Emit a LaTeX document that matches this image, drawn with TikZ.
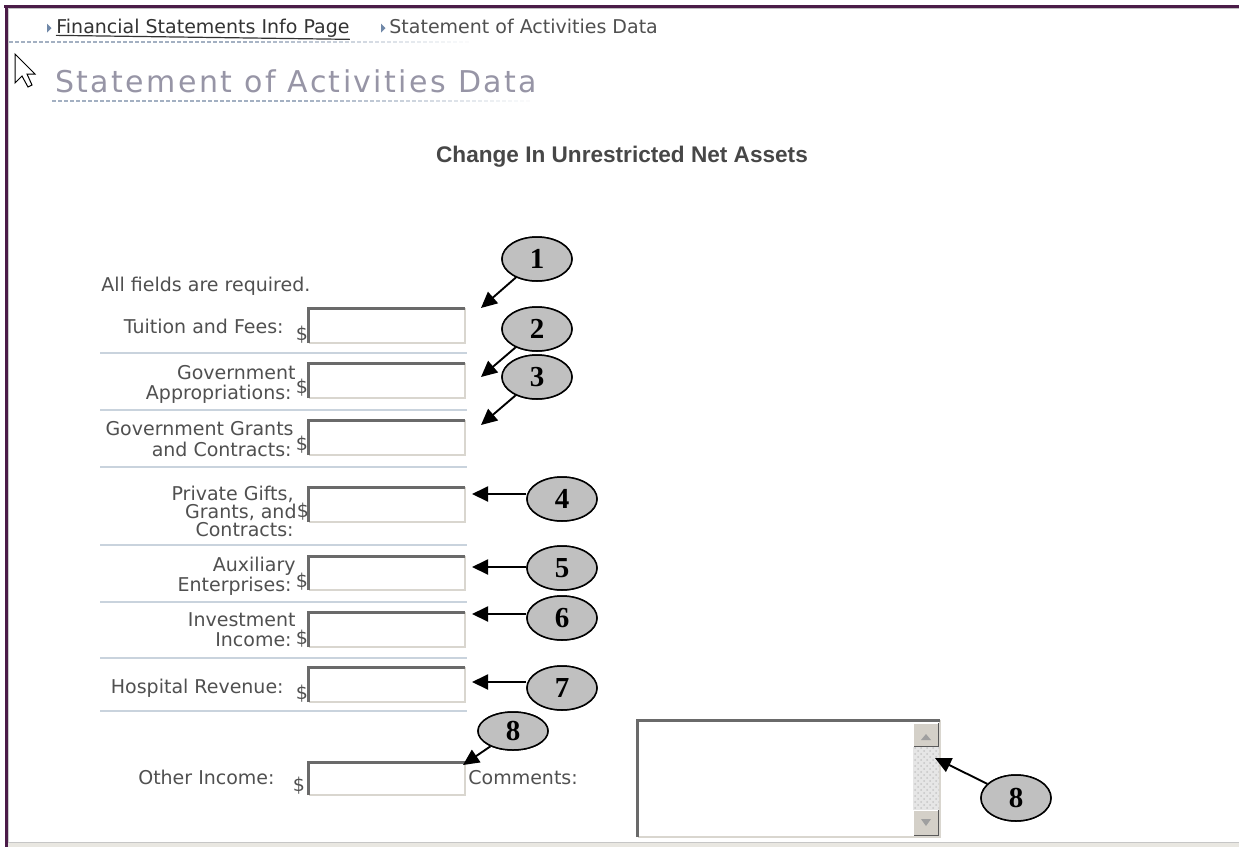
\documentclass[tikz,border=0pt]{standalone}
\usepackage{fontspec}
\setmainfont{DejaVu Sans}
\newfontfamily\numfont{Liberation Serif}
\newfontfamily\headfont{Liberation Sans}
\newfontfamily\titlefont[LetterSpace=8]{DejaVu Sans}
\usetikzlibrary{shapes.geometric,arrows.meta,patterns}
\definecolor{purp}{HTML}{4B1C48}
\definecolor{lab}{HTML}{505050}
\definecolor{sepc}{HTML}{C9D3DD}
\definecolor{dashc}{HTML}{A3B0C2}
\definecolor{ttl}{HTML}{9795A6}
\definecolor{bdark}{HTML}{6A6A6A}
\definecolor{blight}{HTML}{D9D6CF}
\definecolor{bubble}{HTML}{C0C0C0}
\definecolor{btn}{HTML}{D4D0C8}
\definecolor{trk}{HTML}{E6E6E6}
\definecolor{tri}{HTML}{7088A8}
\definecolor{band}{HTML}{E9E7E1}
\begin{document}
\begin{tikzpicture}[x=0.5pt,y=-0.5pt,
  lbl/.style={anchor=base east,inner sep=0,text=lab,font=\fontsize{9.5pt}{11pt}\selectfont},
  lbw/.style={anchor=base west,inner sep=0,text=lab,font=\fontsize{9.5pt}{11pt}\selectfont},
  dol/.style={anchor=base,inner sep=0,text=lab,font=\fontsize{9.5pt}{11pt}\selectfont},
  bub/.style={ellipse,draw=black,line width=0.75pt,fill=bubble,minimum width=35pt,minimum height=22pt,inner sep=0,font=\numfont\bfseries\fontsize{14.5pt}{16pt}\selectfont},
  arr/.style={line width=0.95pt,-{Triangle[length=8pt,width=7.5pt]}},
  sepline/.style={draw=sepc,line width=1pt},
]
\useasboundingbox (0,0) rectangle (1239,847);
\fill[white] (0,0) rectangle (1239,847);

% frame
\fill[purp] (4,5) rectangle (1239,7.5);
\draw[gray!50,line width=0.5pt] (8,8.5) -- (1239,8.5);
\fill[purp] (4.5,5) rectangle (7.5,847);
\draw[gray!40,line width=0.6pt] (8.5,8) -- (8.5,842);
\fill[band] (8,842) rectangle (1239,847);
\draw[gray!45,line width=0.5pt] (8,842) -- (1239,842);

% breadcrumb
\fill[tri] (47,23.5) -- (51.5,28) -- (47,32.5) -- cycle;
\node[anchor=base west,inner sep=0,text=black!80,font=\fontsize{9.5pt}{11pt}\selectfont] (bc1) at (56,33) {Financial Statements Info Page};
\draw[black!80,line width=0.6pt] (bc1.south west) ++(0,-2) -- ([yshift=-1pt]bc1.south east);
\fill[tri] (381,23.5) -- (385.5,28) -- (381,32.5) -- cycle;
\node[anchor=base west,inner sep=0,text=lab,font=\fontsize{9.5pt}{11pt}\selectfont] (bc2) at (389,33) {Statement of Activities Data};
\foreach \i in {0,...,76} {
  \pgfmathsetmacro\op{min(1,(78-\i)/40)}
  \draw[dashc,line width=0.6pt,opacity=\op] (9+6*\i,42) -- ++(3.5,0);
}

% cursor
\draw[black,fill=white,line width=0.5pt,line join=miter]
  (15,54) -- (15,83) -- (22,76) -- (28,87) -- (32,85) -- (27,74) -- (35,74) -- cycle;

% title
\node[anchor=base west,inner sep=0,text=ttl,font=\titlefont\fontsize{15pt}{18pt}\selectfont] (title) at (55,92) {Statement of Activities Data};
\foreach \i in {0,...,79} {
  \pgfmathsetmacro\op{min(1,(81-\i)/40)}
  \draw[dashc,line width=0.6pt,opacity=\op] (52+6*\i,101) -- ++(3.5,0);
}

% heading
\node[anchor=base,inner sep=0,text=black!72,font=\headfont\bfseries\fontsize{11.3pt}{13pt}\selectfont] (head) at (622,162) {Change In Unrestricted Net Assets};

\node[lbw] (req) at (101,291) {All fields are required.};

% input boxes
\foreach \n/\ya/\yb in {1/308/343,2/363/398,3/420/455,4/487/522,5/556/590,6/612/647,7/667/702,8/762/795} {
  \fill[white] (308,\ya) rectangle (465,\yb);
  \draw[blight,line width=0.8pt] (309,\yb) -- (465,\yb) -- (465,\ya);
  \draw[bdark,line width=1.6pt] (308.5,\yb) -- (308.5,\ya+0.8) -- (465,\ya+0.8);
}
% separators
\foreach \y in {353,410,467,545,602,658,711} {
  \draw[sepline] (100,\y) -- (467,\y);
}

% labels
\node[lbl] (l1) at (284,333) {Tuition and Fees:};
\node[dol] (d1) at (302,340) {\$};
\node[lbl] (l2a) at (296,379) {Government};
\node[lbl] (l2b) at (292,399) {Appropriations:};
\node[dol] (d2) at (302,393) {\$};
\node[lbl] (l3a) at (294,435) {Government Grants};
\node[lbl] (l3b) at (292,456) {and Contracts:};
\node[dol] (d3) at (302,450) {\$};
\node[lbl] (l4a) at (294,500) {Private Gifts,};
\node[lbl] (l4b) at (297,518) {Grants, and};
\node[lbl] (l4c) at (294,536) {Contracts:};
\node[dol] (d4) at (303,517) {\$};
\node[lbl] (l5a) at (296,571) {Auxiliary};
\node[lbl] (l5b) at (292,591) {Enterprises:};
\node[dol] (d5) at (302,587) {\$};
\node[lbl] (l6a) at (296,626) {Investment};
\node[lbl] (l6b) at (292,646) {Income:};
\node[dol] (d6) at (302,644) {\$};
\node[lbl] (l7) at (284,693) {Hospital Revenue:};
\node[dol] (d7) at (302,699) {\$};
\node[lbl] (l8) at (275,784) {Other Income:};
\node[dol] (d8) at (299,791) {\$};
\node[lbw] (com) at (468,784) {Comments:};

% textarea
\fill[white] (637,720) rectangle (940,837);
\draw[blight,line width=0.8pt] (638,837) -- (940,837) -- (940,720);
\draw[bdark,line width=1.6pt] (637.8,837) -- (637.8,720.8) -- (940,720.8);
\fill[trk] (913,747) rectangle (939,810);
\fill[pattern=crosshatch dots,pattern color=gray!45] (913,747) rectangle (939,810);
\foreach \ya/\yb in {723/747,810/836} {
  \fill[btn] (913,\ya) rectangle (939,\yb);
  \draw[white,line width=0.6pt] (913.5,\yb) -- (913.5,\ya+0.5) -- (939,\ya+0.5);
  \draw[gray!70!black,line width=0.8pt] (914,\yb-0.5) -- (938.5,\yb-0.5) -- (938.5,\ya);
}
\fill[gray!75] (921,740) -- (931,740) -- (926,734) -- cycle;
\fill[gray!75] (921,819) -- (931,819) -- (926,826) -- cycle;

% callouts
\coordinate (t1) at (481,308);
\coordinate (t2) at (481,377);
\coordinate (t3) at (481,425);
\coordinate (t4) at (472,494);
\coordinate (t5) at (472,567);
\coordinate (t6) at (472,614);
\coordinate (t7) at (472,682);
\coordinate (t8) at (463,765);
\coordinate (t9) at (935,758);
\node[bub] (c1) at (537,259) {1};
\node[bub] (c2) at (537,329) {2};
\node[bub] (c3) at (537,377) {3};
\node[bub] (c4) at (562,499) {4};
\node[bub] (c5) at (562,568) {5};
\node[bub] (c6) at (562,618) {6};
\node[bub] (c7) at (562,688) {7};
\node[bub,minimum height=19pt] (c8) at (513,731) {8};
\node[bub,minimum height=23pt] (c9) at (1016,798) {8};
\draw[arr] (c1) -- (t1);
\draw[arr] (c2) -- (t2);
\draw[arr] (c3) -- (t3);
\draw[arr] (c4.west |- t4) -- (t4);
\draw[arr] (c5.west |- t5) -- (t5);
\draw[arr] (c6.west |- t6) -- (t6);
\draw[arr] (c7.west |- t7) -- (t7);
\draw[arr] (c8) -- (t8);
\draw[arr] (c9) -- (t9);
% redraw bubbles on top
\node[bub] at (c1) {1};
\node[bub] at (c2) {2};
\node[bub] at (c3) {3};
\node[bub] at (c4) {4};
\node[bub] at (c5) {5};
\node[bub] at (c6) {6};
\node[bub] at (c7) {7};
\node[bub,minimum height=19pt] at (c8) {8};
\node[bub,minimum height=23pt] at (c9) {8};
\end{tikzpicture}
\end{document}
